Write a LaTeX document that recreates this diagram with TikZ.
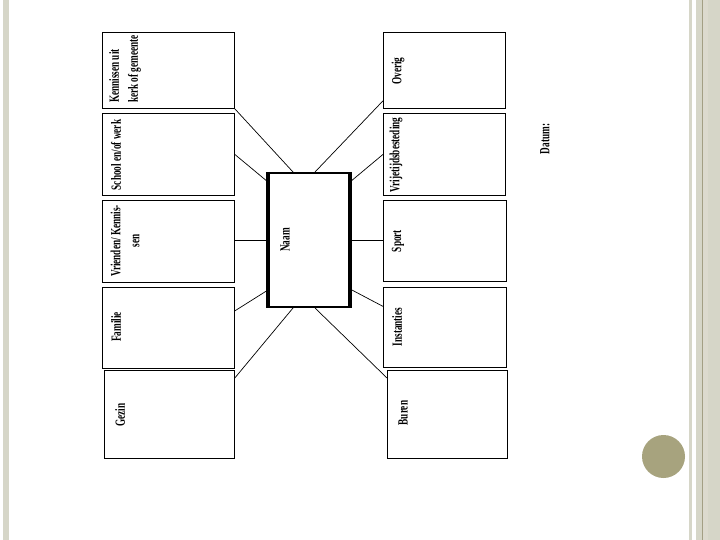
\documentclass[tikz,border=0pt]{standalone}
\usepackage{fontspec}
\setmainfont{Liberation Serif}[FakeStretch=0.66]
\definecolor{stripe}{HTML}{D6D6C8}
\definecolor{stripedark}{HTML}{A39F84}
\definecolor{stripelight}{HTML}{DCDACE}
\definecolor{dot}{HTML}{A7A37E}
\begin{document}
\begin{tikzpicture}[x=1pt,y=-1pt,
  box/.style={draw=black,line width=0.8pt,inner sep=0pt,anchor=north west},
  lbl/.style={rotate=90,inner sep=0pt,font=\fontsize{14}{19}\selectfont\bfseries},
  conn/.style={draw=black,line width=0.7pt}]
\useasboundingbox (0,0) rectangle (720,540);
\fill[white] (0,0) rectangle (720,540);
% slide decoration
\fill[stripe] (3,0) rectangle (9,540);
\fill[stripe] (689,0) rectangle (692,540);
\fill[stripe] (696,0) rectangle (720,540);
\fill[stripelight] (703,0) rectangle (708,540);
\fill[stripedark] (701.8,0) rectangle (703,540);
\fill[dot] (663.5,456.5) circle[radius=21.5pt];
% left column boxes
\node[box,minimum width=132pt,minimum height=76pt] (kerk) at (102,32) {};
\node[box,minimum width=132pt,minimum height=82pt] (school) at (102,113) {};
\node[box,minimum width=132pt,minimum height=82pt] (vrienden) at (102,200) {};
\node[box,minimum width=132pt,minimum height=81pt] (familie) at (102,287) {};
\node[box,minimum width=130pt,minimum height=88pt] (gezin) at (104,370) {};
% right column boxes
\node[box,minimum width=122pt,minimum height=76pt] (overig) at (383,32) {};
\node[box,minimum width=122pt,minimum height=82pt] (vrije) at (383,113) {};
\node[box,minimum width=123pt,minimum height=81pt] (sport) at (383,200) {};
\node[box,minimum width=123pt,minimum height=80pt] (instanties) at (383,287) {};
\node[box,minimum width=120pt,minimum height=88pt] (buren) at (387,370) {};
% centre box
\node[box,line width=2pt,minimum width=80pt,minimum height=134pt] (naam) at (268,172) {};
\draw[line width=3.5pt] (naam.north west) -- (naam.south west);
\draw[line width=3.5pt] (naam.north east) -- (naam.south east);
% labels
\node[lbl,align=left] (tkerk) at (125,69) {Kennissen uit\\kerk of gemeente};
\node[lbl] (tschool) at (116,155) {School en/of werk};
\node[lbl,align=center] (tvrienden) at (125,241) {Vrienden/ Kennis-\\sen};
\node[lbl] (tfamilie) at (116,327) {Familie};
\node[lbl] (tgezin) at (120,415) {Gezin};
\node[lbl] (toverig) at (398,71) {Overig};
\node[lbl] (tvrije) at (396,155) {Vrijetijdsbesteding};
\node[lbl] (tsport) at (398,241) {Sport};
\node[lbl] (tinst) at (397,327) {Instanties};
\node[lbl] (tburen) at (403,413) {Buren};
\node[lbl] (tnaam) at (285,240) {Naam};
\node[lbl] (tdatum) at (545,139) {Datum:};
% connectors
\draw[conn] (kerk.south east) -- ([xshift=25pt]naam.north west);
\draw[conn] (school.east) -- ([yshift=-10pt]naam.north west);
\draw[conn] (naam.west) -- (naam.west -| vrienden.east);
\draw[conn] ([yshift=17pt]familie.east) -- ([yshift=18pt]naam.south west);
\draw[conn] ([yshift=-8pt]gezin.north east) -- ([xshift=25pt]naam.south west);
\draw[conn] ([yshift=8pt]overig.south west) -- ([xshift=-35pt]naam.north east);
\draw[conn] (vrije.west) -- ([yshift=-10pt]naam.north east);
\draw[conn] (naam.east) -- (naam.east -| sport.west);
\draw[conn] ([yshift=19pt]naam.south east) -- ([yshift=21pt]instanties.west);
\draw[conn] ([xshift=-35pt]naam.south east) -- ([yshift=-8pt]buren.north west);
\end{tikzpicture}
\end{document}
